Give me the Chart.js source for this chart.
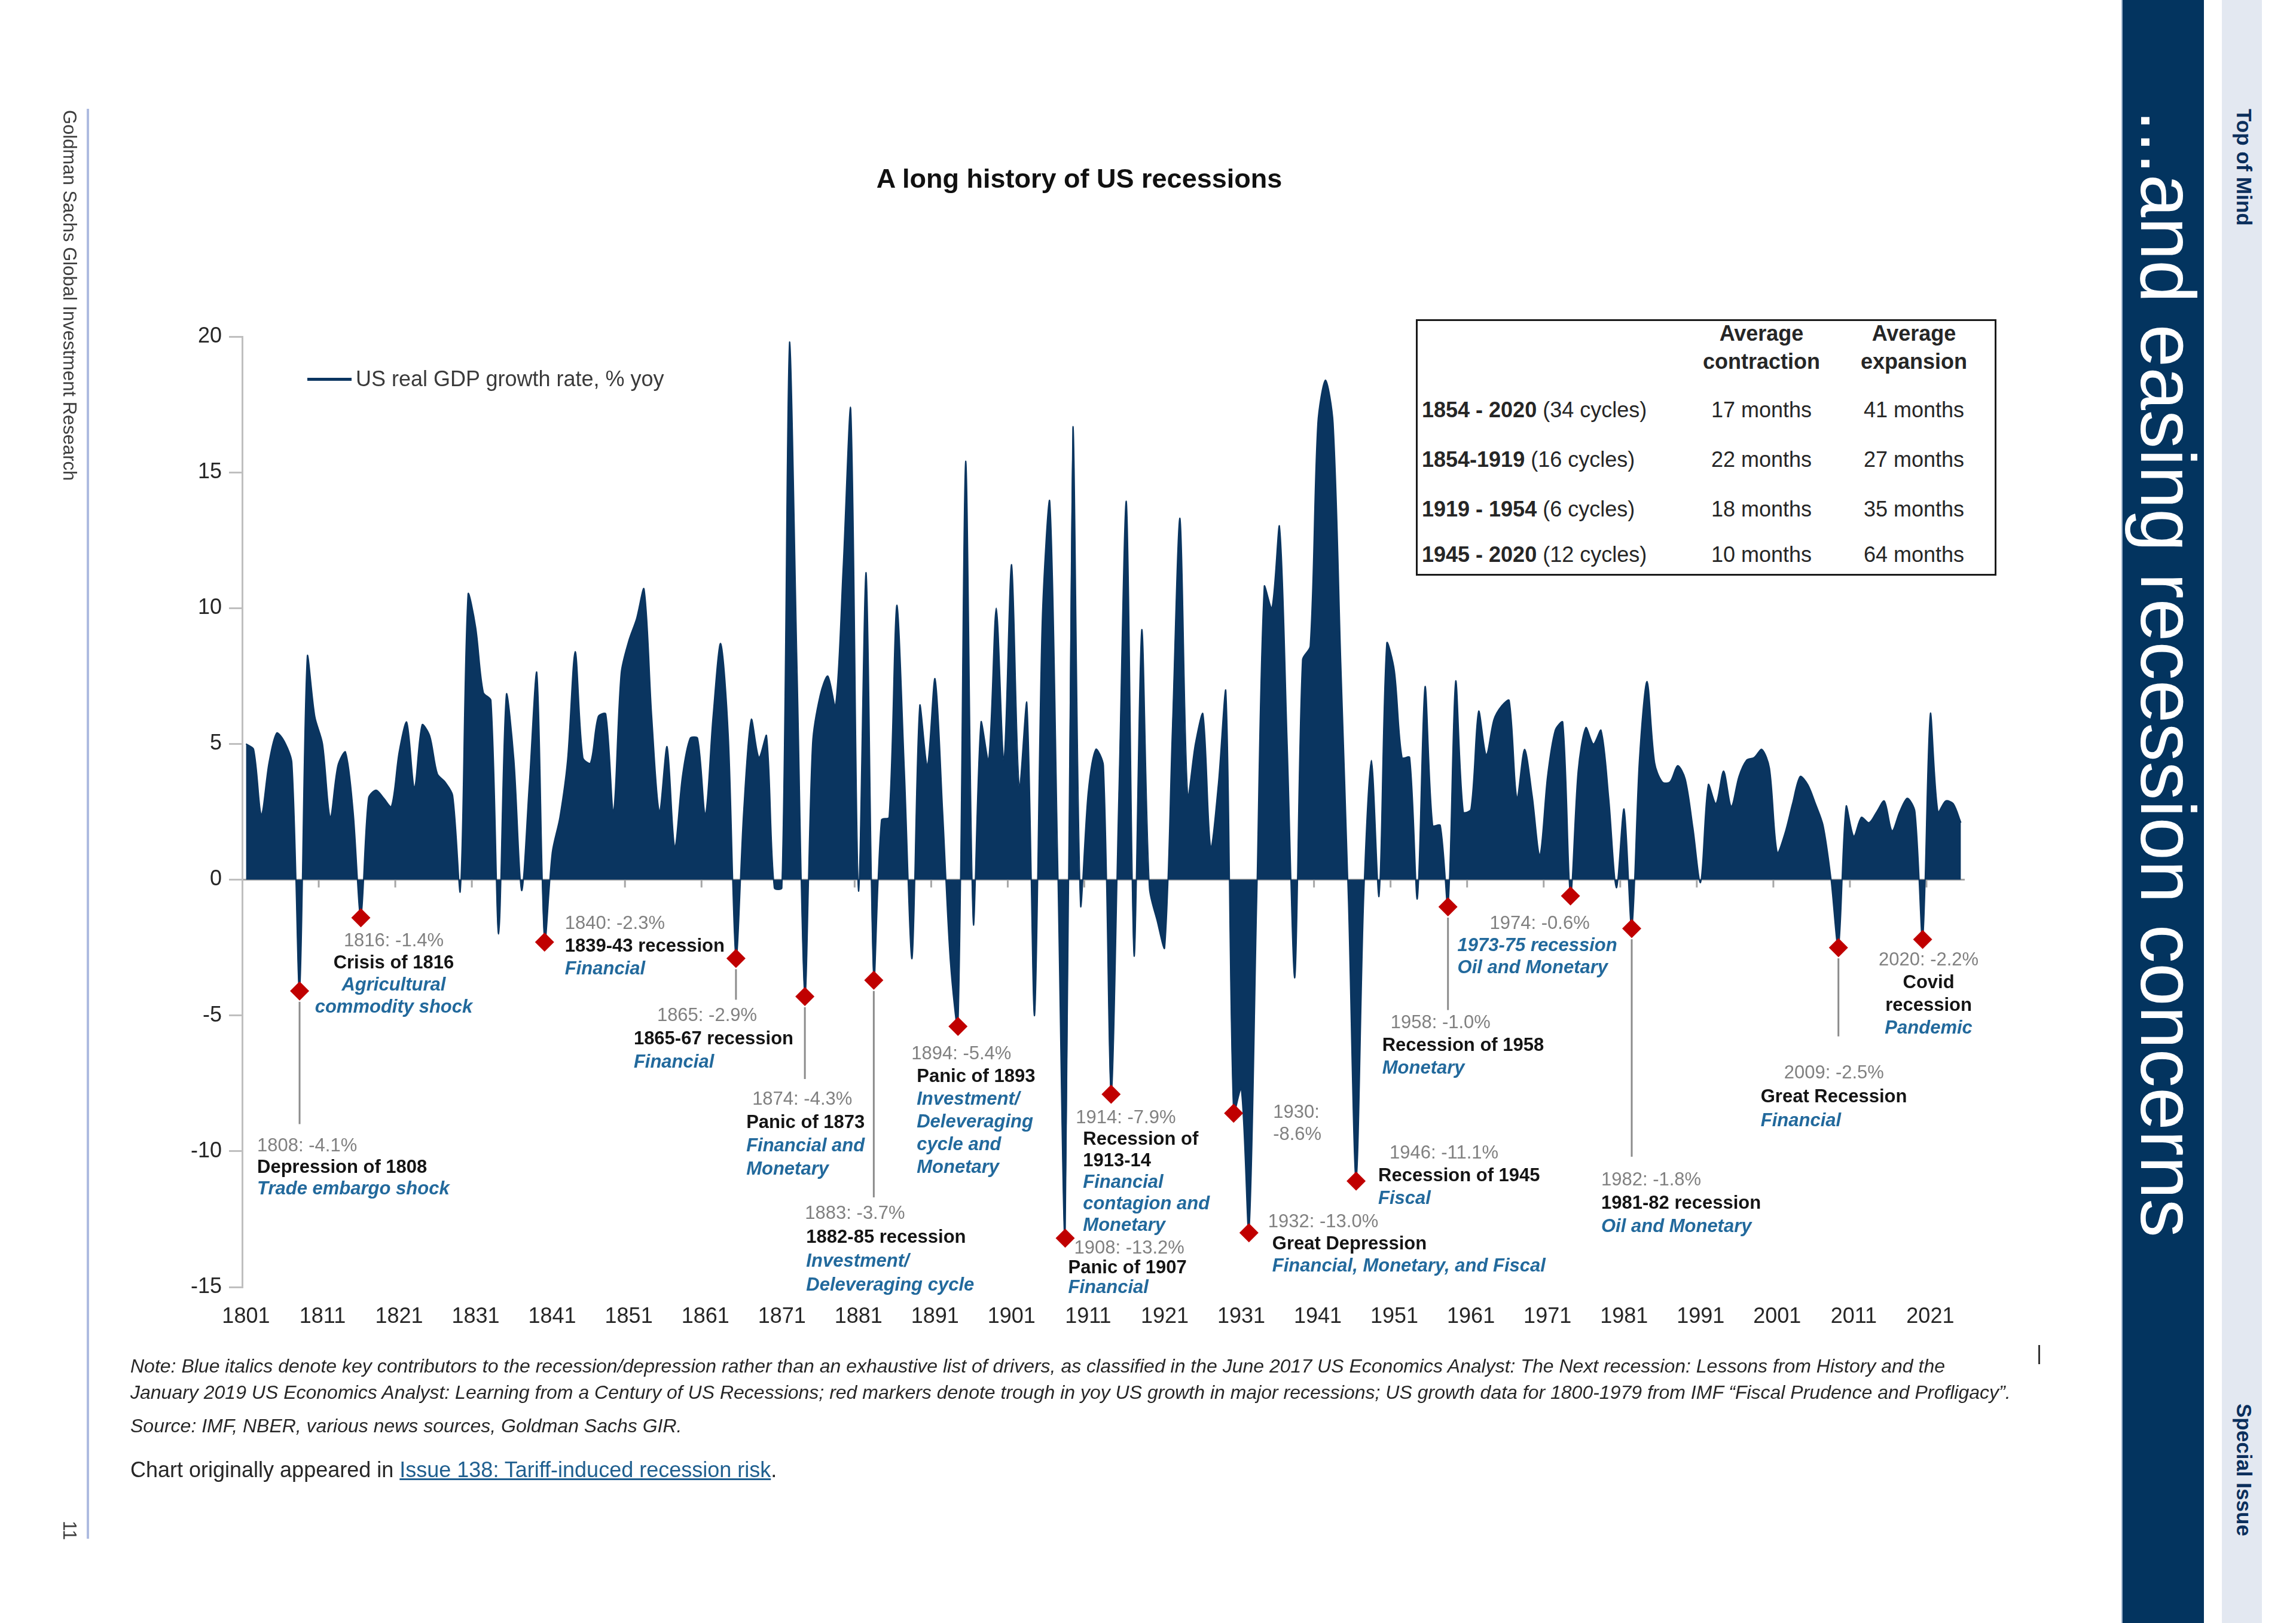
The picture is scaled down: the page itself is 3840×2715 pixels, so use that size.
<!DOCTYPE html>
<html>
<head>
<meta charset="utf-8">
<title>A long history of US recessions</title>
<script src="https://cdn.jsdelivr.net/npm/chart.js@4.4.1/dist/chart.umd.min.js"></script>
<style>
  html, body { margin: 0; padding: 0; background: #fff; }
  body { width: 3840px; height: 2715px; position: relative; overflow: hidden; font-family: 'Liberation Sans', Arial, sans-serif; }
  #chart { position: absolute; left: 0; top: 0; }
  .abs { position: absolute; white-space: nowrap; }
  .vert { writing-mode: vertical-rl; }
  #title { left: 1005px; top: 272px; width: 1600px; text-align: center; font-weight: bold; font-size: 45px; line-height: 54px; color: #111; }
  #legendLine { left: 514px; top: 632px; width: 74px; height: 5px; background: #0a3560; }
  #legendText { left: 595px; top: 614px; font-size: 36px; line-height: 40px; color: #3a3a3a; }
  #stats { position: absolute; left: 2368px; top: 534px; width: 971px; height: 429px; box-sizing: border-box; border: 3px solid #1a1a1a; background: #fff; }
  #stats div { position: absolute; white-space: nowrap; font-size: 36px; line-height: 40px; color: #262626; }
  .note { left: 218px; font-style: italic; font-size: 32px; line-height: 38px; color: #262626; }
  #orig { left: 218px; top: 2438px; font-size: 36px; line-height: 42px; color: #262626; }
  #orig span { color: #1f5f8f; text-decoration: underline; }
</style>
</head>
<body>
<canvas id="chart" width="3840" height="2715"></canvas>

<div class="abs" id="title">A long history of US recessions</div>
<div class="abs" id="legendLine"></div>
<div class="abs" id="legendText">US real GDP growth rate, % yoy</div>
<div id="stats"></div>

<div class="abs note" style="top:2266px">Note: Blue italics denote key contributors to the recession/depression rather than an exhaustive list of drivers, as classified in the June 2017 US Economics Analyst: The Next recession: Lessons from History and the</div>
<div class="abs note" style="top:2310px">January 2019 US Economics Analyst: Learning from a Century of US Recessions; red markers denote trough in yoy US growth in major recessions; US growth data for 1800-1979 from IMF “Fiscal Prudence and Profligacy”.</div>
<div class="abs note" style="top:2366px">Source: IMF, NBER, various news sources, Goldman Sachs GIR.</div>
<div class="abs" id="orig">Chart originally appeared in <span>Issue 138: Tariff-induced recession risk</span>.</div>
<div class="abs" style="left:3409px;top:2250px;width:3px;height:32px;background:#333"></div>

<!-- left margin -->
<div class="abs vert" style="left:101px;top:184px;font-size:31px;line-height:31px;color:#3c3c3c">Goldman Sachs Global Investment Research</div>
<div class="abs" style="left:145px;top:182px;width:4px;height:2392px;background:#aebbe0"></div>
<div class="abs vert" style="left:101px;top:2544px;font-size:31px;line-height:31px;color:#3c3c3c">11</div>

<!-- right margin -->
<div class="abs" style="left:3548px;top:0;width:138px;height:2715px;background:#03345f;border-left:2px solid #9fb3cc;box-sizing:border-box"></div>
<div class="abs vert" style="left:3561px;top:184px;font-size:129px;line-height:129px;color:#fff">...and easing recession concerns</div>
<div class="abs" style="left:3716px;top:0;width:67px;height:2715px;background:#e3e8f1"></div>
<div class="abs vert" style="left:3736px;top:182px;font-size:35px;line-height:35px;font-weight:bold;color:#0b2f5c">Top of Mind</div>
<div class="abs vert" style="left:3736px;top:2348px;font-size:35px;line-height:35px;font-weight:bold;color:#0b2f5c">Special Issue</div>

<script>
// US real GDP growth, % yoy, one value per year 1801-2025
const firstYear = 1801;
const gdpGrowth = [
  5.0, 4.8, 2.4, 4.3, 5.4, 5.1, 4.3, -4.1, 8.2, 6.0,
  5.0, 2.3, 4.2, 4.7, 2.5, -1.4, 3.0, 3.3, 3.0, 2.7,
  4.7, 5.8, 3.4, 5.7, 5.3, 3.9, 3.6, 3.1, -0.4, 10.5,
  9.3, 6.9, 6.6, -2.0, 6.8, 4.4, -0.4, 3.5, 7.6, -2.3,
  1.0, 2.3, 4.4, 8.4, 4.5, 4.3, 6.0, 6.1, 2.5, 7.6,
  8.8, 9.6, 10.7, 6.0, 2.5, 4.9, 1.2, 3.8, 5.2, 5.2,
  2.4, 6.0, 8.7, 5.3, -2.9, 2.5, 5.9, 4.5, 5.3, -0.3,
  -0.3, 19.8, 7.5, -4.3, 5.0, 6.8, 7.5, 6.4, 11.5, 17.3,
  -0.4, 11.3, -3.7, 2.2, 2.3, 10.1, 4.0, -2.9, 6.4, 4.2,
  7.4, 2.5, -3.0, -5.4, 15.4, -1.6, 5.8, 4.4, 10.0, 4.4,
  11.6, 3.4, 6.5, -5.0, 9.5, 13.9, 1.0, -13.2, 16.6, -0.9,
  3.2, 4.8, 4.2, -7.9, 3.0, 13.9, -2.8, 9.2, -0.3, -1.5,
  -2.5, 5.5, 13.3, 3.1, 5.0, 6.1, 1.2, 3.5, 6.9, -8.6,
  -7.7, -13.0, -1.0, 10.8, 10.0, 13.0, 5.0, -3.6, 8.1, 8.6,
  16.8, 18.4, 16.8, 8.0, -0.8, -11.1, -0.6, 4.4, -0.6, 8.7,
  7.7, 4.5, 4.5, -0.7, 7.1, 2.0, 2.0, -1.0, 7.3, 2.5,
  2.6, 6.2, 4.6, 5.9, 6.4, 6.6, 3.0, 4.8, 3.1, 0.9,
  3.8, 5.5, 5.8, -0.6, 4.0, 5.6, 5.0, 5.5, 3.0, -0.3,
  2.6, -1.8, 4.4, 7.3, 4.3, 3.6, 3.6, 4.2, 3.7, 1.9,
  -0.1, 3.5, 2.8, 4.0, 2.7, 3.8, 4.4, 4.5, 4.8, 4.1,
  1.0, 1.7, 2.8, 3.8, 3.5, 2.8, 2.0, 0.1, -2.5, 2.7,
  1.6, 2.3, 2.1, 2.5, 2.9, 1.8, 2.5, 3.0, 2.5, -2.2,
  6.1, 2.5, 2.9, 2.8, 2.1
];
const years = gdpGrowth.map((v, i) => firstYear + i);

// red markers: trough in yoy growth in major recessions
const troughYears = [1808, 1816, 1840, 1865, 1874, 1883, 1894, 1908, 1914, 1930, 1932, 1946, 1958, 1974, 1982, 2009, 2020];
const troughValues = [-4.1, -1.4, -2.3, -2.9, -4.3, -3.7, -5.4, -13.2, -7.9, -8.6, -13.0, -11.1, -1.0, -0.6, -1.8, -2.5, -2.2];

const xTickYears = [1801, 1811, 1821, 1831, 1841, 1851, 1861, 1871, 1881, 1891, 1901, 1911, 1921, 1931, 1941, 1951, 1961, 1971, 1981, 1991, 2001, 2011, 2021];
const yTicks = [-15, -10, -5, 0, 5, 10, 15, 20];

// summary table
const periods = ['1854 - 2020', '1854-1919', '1919 - 1954', '1945 - 2020'];
const cycles = ['(34 cycles)', '(16 cycles)', '(6 cycles)', '(12 cycles)'];
const avgContraction = [17, 22, 18, 10];
const avgExpansion = [41, 27, 35, 64];

// annotation text: v = year/value (grey), n = name (bold), c = cause (blue italics)
// dx in px from the marker, top = first line position in axis units
const notes = [
  { year: 1808, top: -9.82, gap: 36, leader: -9.0, lines: [['1808: -4.1%', 'v', -71], ['Depression of 1808', 'n', -71], ['Trade embargo shock', 'c', -71]] },
  { year: 1816, top: -2.27, gap: 37, align: 'center', lines: [['1816: -1.4%', 'v', 55], ['Crisis of 1816', 'n', 55], ['Agricultural', 'c', 55], ['commodity shock', 'c', 55]] },
  { year: 1840, top: -1.62, gap: 38, lines: [['1840: -2.3%', 'v', 34], ['1839-43 recession', 'n', 34], ['Financial', 'c', 34]] },
  { year: 1865, top: -5.02, gap: 39, leader: -4.42, lines: [['1865: -2.9%', 'v', -132], ['1865-67 recession', 'n', -171], ['Financial', 'c', -171]] },
  { year: 1874, top: -8.09, gap: 39, leader: -7.34, lines: [['1874: -4.3%', 'v', -88], ['Panic of 1873', 'n', -98], ['Financial and', 'c', -98], ['Monetary', 'c', -98]] },
  { year: 1883, top: -12.3, gap: 40, leader: -11.7, lines: [['1883: -3.7%', 'v', -115], ['1882-85 recession', 'n', -113], ['Investment/', 'c', -113], ['Deleveraging cycle', 'c', -113]] },
  { year: 1894, top: -6.42, gap: 38, lines: [['1894: -5.4%', 'v', -78], ['Panic of 1893', 'n', -69], ['Investment/', 'c', -69], ['Deleveraging', 'c', -69], ['cycle and', 'c', -69], ['Monetary', 'c', -69]] },
  { year: 1908, top: -13.59, gap: 33, lines: [['1908: -13.2%', 'v', 15], ['Panic of 1907', 'n', 5], ['Financial', 'c', 5]] },
  { year: 1914, top: -8.79, gap: 36, lines: [['1914: -7.9%', 'v', -59], ['Recession of', 'n', -47], ['1913-14', 'n', -47], ['Financial', 'c', -47], ['contagion and', 'c', -47], ['Monetary', 'c', -47]] },
  { year: 1930, top: -8.58, gap: 37, lines: [['1930:', 'v', 66], ['-8.6%', 'v', 66]] },
  { year: 1932, top: -12.62, gap: 37, lines: [['1932: -13.0%', 'v', 32], ['Great Depression', 'n', 39], ['Financial, Monetary, and Fiscal', 'c', 39]] },
  { year: 1946, top: -10.09, gap: 38, lines: [['1946: -11.1%', 'v', 56], ['Recession of 1945', 'n', 37], ['Fiscal', 'c', 37]] },
  { year: 1958, top: -5.29, gap: 38, leader: -4.8, lines: [['1958: -1.0%', 'v', -96], ['Recession of 1958', 'n', -110], ['Monetary', 'c', -110]] },
  { year: 1974, top: -1.62, gap: 37, lines: [['1974: -0.6%', 'v', -135], ['1973-75 recession', 'c', -189], ['Oil and Monetary', 'c', -189]] },
  { year: 1982, top: -11.06, gap: 39, leader: -10.2, lines: [['1982: -1.8%', 'v', -51], ['1981-82 recession', 'n', -51], ['Oil and Monetary', 'c', -51]] },
  { year: 2009, top: -7.12, gap: 40, leader: -5.77, lines: [['2009: -2.5%', 'v', -91], ['Great Recession', 'n', -130], ['Financial', 'c', -130]] },
  { year: 2020, top: -2.97, gap: 38, align: 'center', lines: [['2020: -2.2%', 'v', 10], ['Covid', 'n', 10], ['recession', 'n', 10], ['Pandemic', 'c', 10]] }
];

const NAVY = '#0a3560';
const FONT = "'Liberation Sans', Arial, sans-serif";

// table
const stats = document.getElementById('stats');
function cell(text, x, y, opts) {
  const d = document.createElement('div');
  d.innerHTML = text;
  d.style.left = x + 'px';
  d.style.top = y + 'px';
  d.style.transform = opts && opts.center ? 'translate(-50%, -50%)' : 'translateY(-50%)';
  if (opts && opts.bold) d.style.fontWeight = 'bold';
  stats.appendChild(d);
}
cell('Average', 575, 21, { center: true, bold: true });
cell('contraction', 575, 68, { center: true, bold: true });
cell('Average', 830, 21, { center: true, bold: true });
cell('expansion', 830, 68, { center: true, bold: true });
const rowY = [149, 232, 315, 391];
periods.forEach((p, i) => {
  cell('<b>' + p + '</b> ' + cycles[i], 7, rowY[i]);
  cell(avgContraction[i] + ' months', 575, rowY[i], { center: true });
  cell(avgExpansion[i] + ' months', 830, rowY[i], { center: true });
});

const troughSeries = years.map(y => {
  const k = troughYears.indexOf(y);
  return k >= 0 ? troughValues[k] : null;
});

const styles = {
  v: { font: '31px ' + FONT, color: '#808080' },
  n: { font: 'bold 31px ' + FONT, color: '#141414' },
  c: { font: 'italic bold 31px ' + FONT, color: '#22699c' }
};

const recessionNotes = {
  id: 'recessionNotes',
  beforeDatasetsDraw(chart) {
    // small decade ticks hanging below the zero line
    const { ctx, scales: { x, y } } = chart;
    const y0 = y.getPixelForValue(0);
    const half = (x.getPixelForValue(1) - x.getPixelForValue(0)) / 2;
    ctx.save();
    ctx.strokeStyle = '#a6a6a6';
    ctx.lineWidth = 3;
    xTickYears.forEach(yr => {
      if (yr === firstYear) return;
      const px = x.getPixelForValue(years.indexOf(yr)) - half;
      ctx.beginPath();
      ctx.moveTo(px, y0);
      ctx.lineTo(px, y0 + 13);
      ctx.stroke();
    });
    ctx.restore();
  },
  afterDatasetsDraw(chart) {
    const { ctx, scales: { x, y } } = chart;
    ctx.save();
    ctx.textBaseline = 'middle';
    notes.forEach(n => {
      const k = years.indexOf(n.year);
      const mx = x.getPixelForValue(k);
      if (n.leader !== undefined) {
        const my = y.getPixelForValue(troughValues[troughYears.indexOf(n.year)]);
        ctx.strokeStyle = '#8c8c8c';
        ctx.lineWidth = 3;
        ctx.beginPath();
        ctx.moveTo(mx, my + 18);
        ctx.lineTo(mx, y.getPixelForValue(n.leader));
        ctx.stroke();
      }
      const top = y.getPixelForValue(n.top);
      ctx.textAlign = n.align || 'left';
      n.lines.forEach((ln, i) => {
        const s = styles[ln[1]];
        ctx.font = s.font;
        ctx.fillStyle = s.color;
        ctx.fillText(ln[0], mx + ln[2], top + i * n.gap);
      });
    });
    ctx.restore();
  }
};

new Chart(document.getElementById('chart'), {
  type: 'line',
  data: {
    labels: years,
    datasets: [
      {
        label: 'Trough',
        data: troughSeries,
        order: 0,
        showLine: false,
        pointStyle: 'rectRot',
        pointRadius: 16,
        pointBackgroundColor: '#c00000',
        pointBorderColor: '#c00000',
        pointBorderWidth: 0
      },
      {
        label: 'US real GDP growth rate, % yoy',
        data: gdpGrowth,
        order: 1,
        borderColor: NAVY,
        backgroundColor: NAVY,
        borderWidth: 2,
        fill: 'origin',
        tension: 0.3,
        pointRadius: 0
      }
    ]
  },
  options: {
    responsive: false,
    animation: false,
    devicePixelRatio: 1,
    layout: { padding: { left: 285, right: 554, top: 563, bottom: 482 } },
    plugins: {
      legend: { display: false },
      title: { display: false },
      tooltip: { enabled: false }
    },
    scales: {
      x: {
        offset: true,
        grid: { display: false, drawTicks: false },
        border: { display: false },
        ticks: {
          autoSkip: false,
          maxRotation: 0,
          minRotation: 0,
          padding: 28,
          color: '#262626',
          font: { family: FONT, size: 36 },
          callback: (v, i) => xTickYears.includes(years[i]) ? String(years[i]) : null
        },
        afterFit: s => { s.height = 80; }
      },
      y: {
        min: yTicks[0],
        max: yTicks[yTicks.length - 1],
        afterBuildTicks: s => { s.ticks = yTicks.map(v => ({ value: v })); },
        ticks: {
          padding: 12,
          color: '#262626',
          font: { family: FONT, size: 36 }
        },
        grid: {
          color: c => (c.tick && c.tick.value === 0) ? '#a6a6a6' : 'rgba(0,0,0,0)',
          lineWidth: 3,
          tickColor: '#bfbfbf',
          tickLength: 22
        },
        border: { display: true, color: '#bfbfbf', width: 3 },
        afterFit: s => { s.width = 120; }
      }
    }
  },
  plugins: [recessionNotes]
});
</script>
</body>
</html>
